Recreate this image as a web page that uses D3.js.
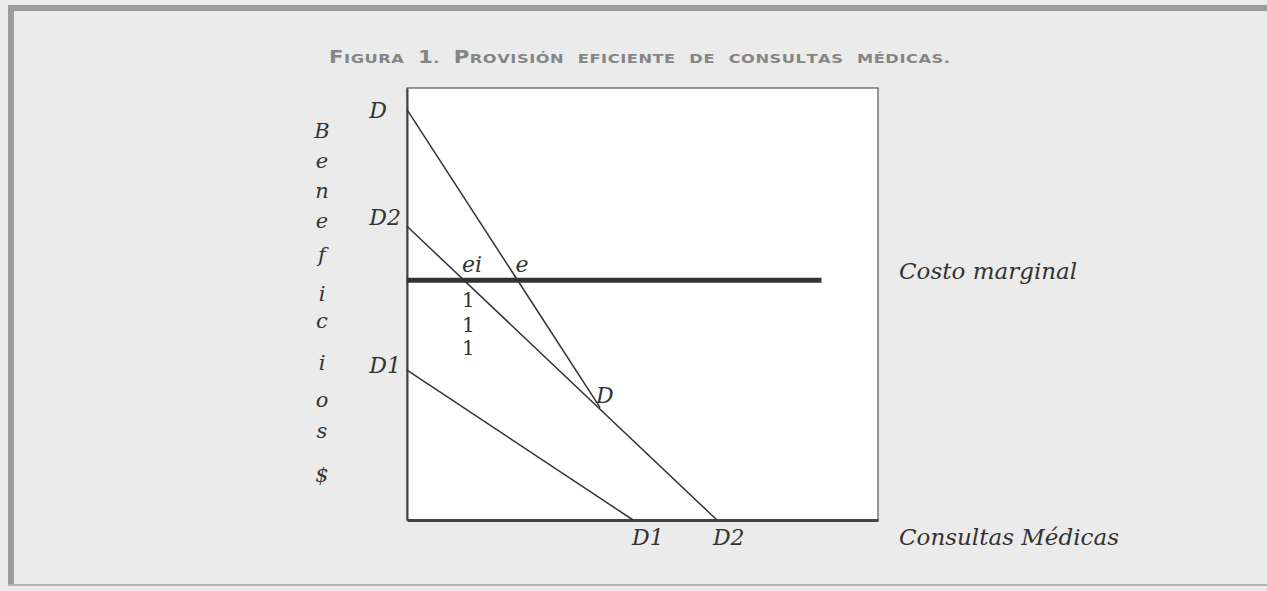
<!DOCTYPE html>
<html>
<head>
<meta charset="utf-8">
<script src="https://cdn.jsdelivr.net/npm/d3@7"></script>
<style>
  html, body { margin: 0; padding: 0; background: #ebebeb; }
  svg { display: block; }
</style>
</head>
<body>
<svg id="chart" width="1267" height="591"></svg>
<script>
// ---- Data (arbitrary units: quantity q, benefit p) ----
const curveD  = [{q: 0, p: 95}, {q: 41, p: 26}];   // D ... D
const curveD2 = [{q: 0, p: 68}, {q: 65.8, p: 0}];  // D2 ... D2
const curveD1 = [{q: 0, p: 34.7}, {q: 48, p: 0}];  // D1 ... D1
const marginalCost = [{q: 0, p: 55.5}, {q: 88, p: 55.5}];
const titleText = "Figura 1. Provisión eficiente de consultas médicas.";
const yAxisLetters = ["B","e","n","e","f","i","c","i","o","s","$"];
const xAxisTitle = "Consultas Médicas";
const mcTitle = "Costo marginal";
const oneMarks = ["1","1","1"];

(function () {
const svg = d3.select("#chart");
const W = 1267, H = 591;

// background & scanned frame
svg.append("rect").attr("x",0).attr("y",0).attr("width",W).attr("height",H).attr("fill","#ebebeb");
svg.append("rect").attr("x",8).attr("y",5).attr("width",W-8).attr("height",6).attr("fill","#9c9c9c");
svg.append("rect").attr("x",8).attr("y",5).attr("width",6).attr("height",580).attr("fill","#9c9c9c");
svg.append("rect").attr("x",8).attr("y",584).attr("width",W-8).attr("height",2).attr("fill","#b4b4b4");

// title (manual small caps, horizontally widened like an extended face)
const stretch = 1.25;
const title = svg.append("text")
  .attr("transform", `scale(${stretch},1)`)
  .attr("y",63).attr("x",329 / stretch)
  .attr("fill","#858585").attr("font-family","'DejaVu Sans', sans-serif").attr("font-weight","bold")
  .attr("textLength",621 / stretch).attr("lengthAdjust","spacing");
titleText.split(" ").forEach((word, wi) => {
  if (wi > 0) title.append("tspan").attr("font-size",30).text(" ");
  [...word].forEach(ch => {
    const up = ch === ch.toUpperCase() && ch !== ch.toLowerCase();
    const isDigit = /[0-9]/.test(ch);
    title.append("tspan").attr("font-size", (up || isDigit) ? 17 : 13).text(ch.toUpperCase());
  });
});

// plot area
const pL = 407, pR = 878, pT = 88, pB = 520;
const x = d3.scaleLinear().domain([0,100]).range([pL,pR]);
const y = d3.scaleLinear().domain([0,100]).range([pB,pT]);

svg.append("rect").attr("x",pL).attr("y",pT).attr("width",pR-pL).attr("height",pB-pT)
  .attr("fill","#ffffff").attr("stroke","#555").attr("stroke-width",1.2);

// axes (no ticks)
svg.append("g").attr("transform",`translate(0,${pB})`)
  .call(d3.axisBottom(x).ticks(0).tickSizeOuter(0))
  .call(g => g.select(".domain").attr("stroke","#444").attr("stroke-width",3));
svg.append("g").attr("transform",`translate(${pL},0)`)
  .call(d3.axisLeft(y).ticks(0).tickSizeOuter(0))
  .call(g => g.select(".domain").attr("stroke","#444").attr("stroke-width",2));

const line = d3.line().x(d => x(d.q)).y(d => y(d.p));
[curveD, curveD2, curveD1].forEach(c => {
  svg.append("path").datum(c).attr("d",line).attr("fill","none")
    .attr("stroke","#333").attr("stroke-width",1.5);
});
svg.append("path").datum(marginalCost).attr("d",line).attr("fill","none")
  .attr("stroke","#333").attr("stroke-width",5);

// labels
const serifI = "'DejaVu Serif', serif";
function lab(txt, px, py, anchor, italic = true, size = 22) {
  svg.append("text").attr("x",px).attr("y",py).attr("text-anchor",anchor||"start")
    .attr("font-family",serifI).attr("font-style",italic ? "italic" : "normal")
    .attr("font-size",size).attr("fill","#333").text(txt);
}
lab("D",  x(0) - 20, y(curveD[0].p) + 8, "end");
lab("D2", x(0) - 6,  y(curveD2[0].p) - 1, "end");
lab("D1", x(0) - 6,  y(curveD1[0].p) + 3, "end");
lab("D",  x(curveD[1].q) - 4, y(curveD[1].p) - 5, "start");
lab("D1", x(curveD1[1].q) - 1, pB + 25, "start");
lab("D2", x(curveD2[1].q) - 4, pB + 25, "start");

// intersections with marginal cost
const mc = marginalCost[0].p;
const qEi = curveD2[1].q * (1 - mc / curveD2[0].p);
const qE  = (curveD[0].p - mc) * (curveD[1].q - curveD[0].q) / (curveD[0].p - curveD[1].p);
lab("ei", x(qEi) - 2, y(mc) - 8, "start");
lab("e",  x(qE) - 2,  y(mc) - 8, "start");
[307, 332, 355].forEach((py, i) => lab(oneMarks[i], x(qEi) - 2, py, "start", false, 20));

lab(mcTitle, 899, y(mc) - 1, "start", true, 23);
lab(xAxisTitle, 899, pB + 25, "start", true, 23);

const letterY = [138, 168, 198, 228, 262, 301, 328, 370, 407, 438, 482];
yAxisLetters.forEach((c, i) => lab(c, 322, letterY[i], "middle", true, 21));
})();
</script>
</body>
</html>
